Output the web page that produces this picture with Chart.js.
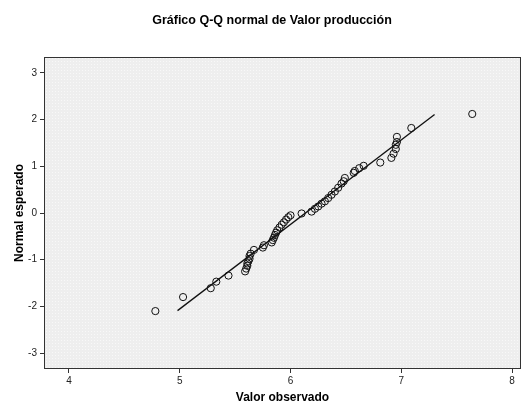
<!DOCTYPE html>
<html>
<head>
<meta charset="utf-8">
<script src="https://cdn.jsdelivr.net/npm/chart.js@4"></script>
<style>
  html, body { margin: 0; padding: 0; background: #fff; }
  #wrap { width: 528px; height: 405px; position: relative; }
</style>
</head>
<body>
<div id="wrap"><canvas id="qq"></canvas></div>
<script>
// Observed production values and their expected normal scores
const observed = [4.78, 5.03, 5.28, 5.33, 5.44, 5.59, 5.60, 5.61, 5.61, 5.62, 5.63, 5.63, 5.64, 5.67,
  5.75, 5.76, 5.83, 5.84, 5.85, 5.86, 5.87, 5.88, 5.90, 5.92, 5.94, 5.96, 5.98, 6.00, 6.10, 6.19,
  6.22, 6.25, 6.28, 6.31, 6.34, 6.37, 6.40, 6.43, 6.46, 6.48, 6.49, 6.57, 6.58, 6.62, 6.66, 6.81,
  6.91, 6.93, 6.95, 6.95, 6.96, 6.96, 7.09, 7.64];
const expected = [-2.10, -1.80, -1.61, -1.47, -1.34, -1.25, -1.19, -1.13, -1.08, -1.03, -0.98, -0.92, -0.87, -0.79,
  -0.74, -0.69, -0.63, -0.58, -0.53, -0.47, -0.42, -0.37, -0.31, -0.25, -0.20, -0.14, -0.09, -0.05, -0.01, 0.03,
  0.09, 0.14, 0.20, 0.25, 0.32, 0.39, 0.46, 0.54, 0.63, 0.68, 0.75, 0.86, 0.90, 0.96, 1.01, 1.08,
  1.18, 1.27, 1.37, 1.46, 1.52, 1.63, 1.82, 2.12];

// Reference line end points
const lineX = [4.98, 7.30];
const lineY = [-2.09, 2.11];

const xTicks = [4, 5, 6, 7, 8];
const yTicks = [-3, -2, -1, 0, 1, 2, 3];

const titleText = 'Gráfico Q-Q normal de Valor producción';
const xTitle = 'Valor observado';
const yTitle = 'Normal esperado';

const FONT = '"Liberation Sans", Arial, sans-serif';
const INK = '#222';

// grainy grey fill for the plot area
function makePattern(ctx) {
  const c = document.createElement('canvas');
  c.width = 3; c.height = 3;
  const p = c.getContext('2d');
  p.fillStyle = '#eeeeee';
  p.fillRect(0, 0, 3, 3);
  p.fillStyle = '#f8f8f8';
  p.fillRect(1, 1, 1, 1);
  return ctx.createPattern(c, 'repeat');
}

const frame = {
  id: 'frame',
  beforeDatasetsDraw(chart) {
    const { ctx, chartArea: a } = chart;
    ctx.save();
    ctx.fillStyle = makePattern(ctx);
    ctx.fillRect(a.left, a.top, a.right - a.left, a.bottom - a.top);
    ctx.restore();
  },
  afterDraw(chart) {
    const { ctx, chartArea: a } = chart;
    ctx.save();
    ctx.strokeStyle = '#333';
    ctx.lineWidth = 1;
    ctx.strokeRect(a.left + 0.5, a.top + 0.5, a.right - a.left - 1, a.bottom - a.top - 1);
    // heading
    ctx.fillStyle = '#000';
    ctx.font = 'bold 12.5px ' + FONT;
    ctx.textAlign = 'center';
    ctx.textBaseline = 'middle';
    ctx.fillText(titleText, 272, 21);
    ctx.restore();
  }
};

const ctx = document.getElementById('qq').getContext('2d');
new Chart(ctx, {
  type: 'scatter',
  data: {
    datasets: [
      {
        label: 'Observado',
        data: observed.map((v, i) => ({ x: v, y: expected[i] })),
        pointRadius: 3.6,
        pointBorderWidth: 1,
        pointBorderColor: '#111',
        pointBackgroundColor: 'rgba(0,0,0,0)',
        order: 2
      },
      {
        label: 'Recta',
        data: lineX.map((v, i) => ({ x: v, y: lineY[i] })),
        showLine: true,
        borderColor: '#111',
        borderWidth: 1.3,
        pointRadius: 0,
        order: 1
      }
    ]
  },
  options: {
    responsive: true,
    maintainAspectRatio: false,
    animation: false,
    layout: { padding: { left: 12, top: 57, right: 7, bottom: 0 } },
    plugins: {
      legend: { display: false },
      tooltip: { enabled: false }
    },
    scales: {
      x: {
        type: 'linear',
        min: 3.775,
        max: 8.08,
        afterBuildTicks: s => { s.ticks = xTicks.map(v => ({ value: v })); },
        afterFit: s => { s.height = 36; },
        grid: { drawOnChartArea: false, drawTicks: true, tickLength: 4, color: '#333' },
        border: { display: false },
        ticks: { color: INK, font: { family: FONT, size: 10 }, padding: 2, maxRotation: 0 },
        title: { display: true, text: xTitle, color: '#000', font: { family: FONT, size: 12, weight: 'bold' }, padding: { top: 2, bottom: 0 } }
      },
      y: {
        type: 'linear',
        min: -3.34,
        max: 3.34,
        afterBuildTicks: s => { s.ticks = yTicks.map(v => ({ value: v })); },
        afterFit: s => { s.width = 32; },
        grid: { drawOnChartArea: false, drawTicks: true, tickLength: 4, color: '#333' },
        border: { display: false },
        ticks: { color: INK, font: { family: FONT, size: 10 }, padding: 3 },
        title: { display: true, text: yTitle, color: '#000', font: { family: FONT, size: 12, weight: 'bold' }, padding: { top: 0, bottom: 4 } }
      }
    }
  },
  plugins: [frame]
});
</script>
</body>
</html>
